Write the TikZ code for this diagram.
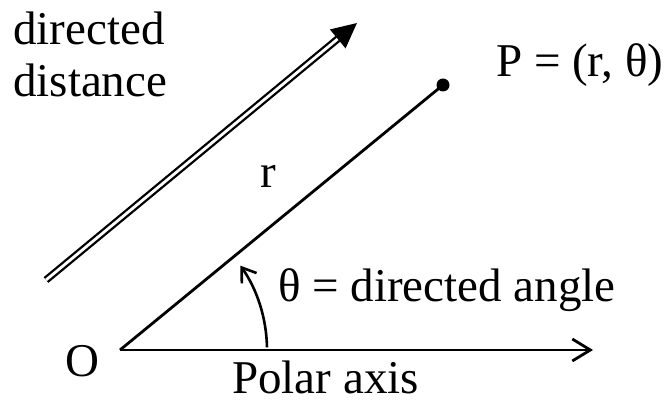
\documentclass[tikz,border=0pt]{standalone}
\usepackage{fontspec}
\setmainfont{Liberation Serif}
\usetikzlibrary{arrows.meta}

\begin{document}
\begin{tikzpicture}[
    x=1pt, y=1pt,
    lbl/.style={anchor=base west, inner sep=0pt, font=\fontsize{47}{56}\selectfont},
    ray/.style={line width=2.8pt},
    axisarrow/.style={-{Straight Barb[length=18pt,width=22pt,line width=2.8pt]}, line width=2.8pt},
    anglearrow/.style={-{Straight Barb[length=13pt,width=18pt,line width=2.6pt]}, line width=2.6pt},
    dist/.style={double, line width=2.3pt, double distance=2.8pt,
                 -{Triangle[length=25pt,width=24pt]}},
]
\useasboundingbox (0,0) rectangle (670,402);
% Points
\coordinate (origin) at (120,52);
\coordinate (axisend) at (593,52);
\coordinate (point) at (443,317);
\coordinate (disttail) at (46,122);
\coordinate (disthead) at (357,379);
% Labels
\node[lbl] (dirtop) at (13,357) {directed};
\node[lbl] (dirbot) at (13,305) {distance};
\node[lbl] (plabel) at (496,325) {P = (r, θ)};
\node[lbl] (rlabel) at (260,214) {r};
\node[lbl] (anglabel) at (278,100) {θ = directed angle};
\node[lbl] (olabel) at (65,25) {O};
\node[lbl] (axislabel) at (232,9) {Polar axis};

% Lines
\draw[axisarrow] (origin) -- (axisend);
\draw[ray] (origin) -- (point);
\fill (point) circle (6.5pt);
\draw[dist] (disttail) -- (disthead);
\draw[anglearrow] ([shift={(1:147)}]origin) arc[start angle=1, end angle=35, radius=147];

\end{tikzpicture}
\end{document}
